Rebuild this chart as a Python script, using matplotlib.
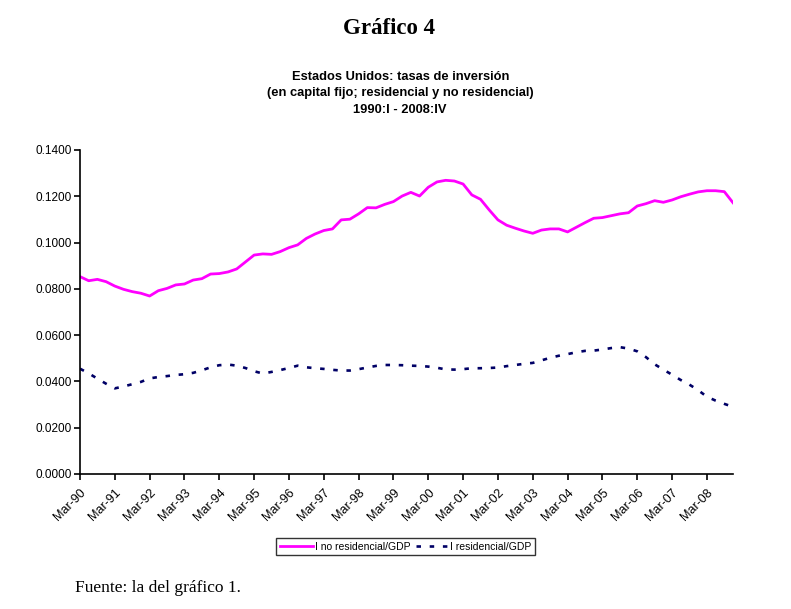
import matplotlib.pyplot as plt
from matplotlib.ticker import FixedLocator, FuncFormatter

# quarterly data 1990:I - 2008:IV
years = list(range(1990, 2009))
tick_labels = [f"Mar-{y % 100:02d}" for y in years]

no_residencial = [
    0.0853, 0.0835, 0.0841, 0.0831, 0.0812, 0.0798, 0.0788, 0.0781,
    0.0769, 0.0792, 0.0802, 0.0817, 0.0821, 0.0838, 0.0844, 0.0864,
    0.0866, 0.0873, 0.0886, 0.0916, 0.0946, 0.0951, 0.0949, 0.0961,
    0.0978, 0.0990, 0.1018, 0.1037, 0.1052, 0.1059, 0.1098, 0.1101,
    0.1124, 0.1151, 0.1150, 0.1165, 0.1177, 0.1201, 0.1217, 0.1201,
    0.1239, 0.1262, 0.1269, 0.1266, 0.1253, 0.1206, 0.1187, 0.1141,
    0.1098, 0.1075, 0.1062, 0.1050, 0.1040, 0.1054, 0.1059, 0.1059,
    0.1046, 0.1066, 0.1086, 0.1105, 0.1108, 0.1116, 0.1124, 0.1129,
    0.1158, 0.1168, 0.1181, 0.1174, 0.1184, 0.1198, 0.1209, 0.1219,
    0.1224, 0.1224, 0.1220, 0.1172,
]

residencial = [
    0.0455, 0.0435, 0.0412, 0.0390, 0.0370, 0.0378, 0.0388, 0.0398,
    0.0413, 0.0419, 0.0423, 0.0428, 0.0431, 0.0437, 0.0448, 0.0461,
    0.0470, 0.0473, 0.0468, 0.0458, 0.0444, 0.0434, 0.0441, 0.0449,
    0.0458, 0.0468, 0.0461, 0.0457, 0.0454, 0.0450, 0.0447, 0.0447,
    0.0453, 0.0460, 0.0467, 0.0471, 0.0471, 0.0470, 0.0468, 0.0467,
    0.0464, 0.0459, 0.0452, 0.0451, 0.0453, 0.0457, 0.0457, 0.0458,
    0.0460, 0.0466, 0.0471, 0.0476, 0.0480, 0.0491, 0.0502, 0.0511,
    0.0518, 0.0526, 0.0532, 0.0533, 0.0538, 0.0544, 0.0548, 0.0542,
    0.0530, 0.0505, 0.0474, 0.0451, 0.0429, 0.0406, 0.0386, 0.0362,
    0.0334, 0.0317, 0.0303, 0.0290,
]

plt.rcParams['font.family'] = ['Liberation Sans', 'DejaVu Sans']

fig = plt.figure(figsize=(7.91, 6.09), dpi=100)
ax = fig.add_axes([0.1011, 0.2217, 0.8256, 0.532])

x = list(range(len(no_residencial)))
ax.plot(x, no_residencial, color='#FF00FF', lw=2.0,
        label='I no residencial/GDP', solid_joinstyle='round')
ax.plot(x, residencial, color='#000066', lw=1.9, dashes=(1.7, 3.3),
        dash_capstyle='butt', label='I residencial/GDP')

ax.set_xlim(0, len(x) - 1)
ax.set_ylim(0, 0.14)
ax.set_yticks([0.0, 0.02, 0.04, 0.06, 0.08, 0.10, 0.12, 0.14])
ax.yaxis.set_major_formatter(FuncFormatter(lambda v, p: f"{v:.4f}"))
ax.xaxis.set_major_locator(FixedLocator([4 * i for i in range(len(years))]))
ax.set_xticklabels(tick_labels, rotation=45, ha='right',
                   rotation_mode='anchor')

for s in ['top', 'right']:
    ax.spines[s].set_visible(False)
for s in ['left', 'bottom']:
    ax.spines[s].set_linewidth(1.2)
ax.tick_params(axis='both', direction='out', length=4, width=1.2, pad=2)
ax.tick_params(axis='y', labelsize=8.5)
ax.tick_params(axis='x', labelsize=9, pad=5)

leg = fig.legend(loc='center', bbox_to_anchor=(0.513, 0.1026), ncol=2,
                 fontsize=7.5, frameon=True, fancybox=False,
                 edgecolor='black', borderpad=0.35, handlelength=3.2,
                 handletextpad=0.15, columnspacing=0.5, borderaxespad=0)
leg.get_frame().set_linewidth(1.0)

fig.text(0.492, 0.953, 'Gráfico 4', ha='center', va='center',
         fontsize=16.5, fontweight='bold', family=['Liberation Serif'])
fig.text(0.506, 0.847,
         'Estados Unidos: tasas de inversión\n'
         '(en capital fijo; residencial y no residencial)\n'
         '1990:I - 2008:IV',
         ha='center', va='center', fontsize=9.3, fontweight='bold',
         linespacing=1.5)
fig.text(0.095, 0.034, 'Fuente: la del gráfico 1.', ha='left',
         va='center', fontsize=12.5, family=['Liberation Serif'])

fig.savefig('out.png', dpi=100)
